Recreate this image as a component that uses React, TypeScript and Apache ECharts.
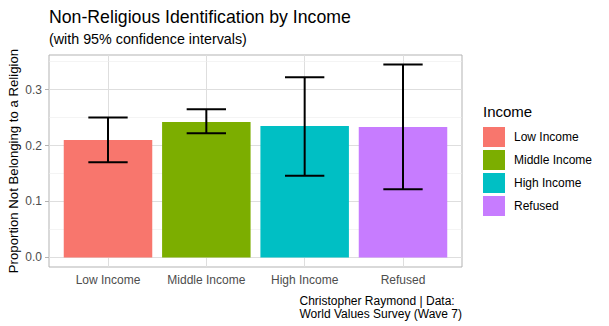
import React, { useEffect, useRef } from "react";
import * as echarts from "echarts";

const categories = ["Low Income", "Middle Income", "High Income", "Refused"];
const proportions = [0.21, 0.242, 0.235, 0.233];
const lowerCI = [0.17, 0.222, 0.146, 0.122];
const upperCI = [0.25, 0.265, 0.322, 0.345];
const colors = ["#F8766D", "#7CAE00", "#00BFC4", "#C77CFF"];
const yTicks = [0, 0.1, 0.2, 0.3];
const yMinor = [0.05, 0.15, 0.25, 0.35];
const xPositions = [1, 2, 3, 4];

const FONT = "Liberation Sans, Arial, sans-serif";

export default function App() {
  const ref = useRef<HTMLDivElement>(null);
  useEffect(() => {
    document.body.style.margin = "0";
    if (!ref.current) return;
    const chart = echarts.init(ref.current, null, { renderer: "svg" });

    const renderItem = (params: any, api: any) => {
      const x = api.value(0);
      const v = api.value(1);
      const lo = api.value(2);
      const hi = api.value(3);
      const tl = api.coord([x - 0.45, v]);
      const br = api.coord([x + 0.45, 0]);
      const pHi = api.coord([x, hi]);
      const pLo = api.coord([x, lo]);
      const cl = api.coord([x - 0.2, hi]);
      const cr = api.coord([x + 0.2, hi]);
      const lineStyle = { stroke: "#000", lineWidth: 2 };
      return {
        type: "group",
        children: [
          {
            type: "rect",
            shape: { x: tl[0], y: tl[1], width: br[0] - tl[0], height: br[1] - tl[1] },
            style: { fill: api.visual("color") },
          },
          { type: "line", shape: { x1: pHi[0], y1: pHi[1], x2: pLo[0], y2: pLo[1] }, style: lineStyle },
          { type: "line", shape: { x1: cl[0], y1: pHi[1], x2: cr[0], y2: pHi[1] }, style: lineStyle },
          { type: "line", shape: { x1: cl[0], y1: pLo[1], x2: cr[0], y2: pLo[1] }, style: lineStyle },
        ],
      };
    };

    const barSeries = categories.map((c, i) => ({
      type: "custom",
      name: c,
      renderItem,
      z: 3,
      itemStyle: { color: colors[i] },
      encode: { x: 0, y: 1 },
      data: [[xPositions[i], proportions[i], lowerCI[i], upperCI[i]]],
    }));

    const gridSeries = {
      type: "line",
      name: "__grid",
      data: [],
      z: 1,
      silent: true,
      markLine: {
        silent: true,
        symbol: "none",
        z: 1,
        label: { show: false },
        animation: false,
        data: [
          ...xPositions.map((x) => ({ xAxis: x, lineStyle: { color: "#dedede", width: 1, type: "solid" } })),
          ...yTicks.map((y) => ({ yAxis: y, lineStyle: { color: "#dedede", width: 1, type: "solid" } })),
          ...yMinor.map((y) => ({ yAxis: y, lineStyle: { color: "#ededed", width: 0.6, type: "solid" } })),
        ],
      },
    };

    chart.setOption({
      animation: false,
      textStyle: { fontFamily: FONT },
      title: {
        text: "Non-Religious Identification by Income",
        subtext: "(with 95% confidence intervals)",
        left: 44,
        top: 3,
        itemGap: 6,
        textStyle: { fontFamily: FONT, fontSize: 17.7, fontWeight: "normal", color: "#000" },
        subtextStyle: { fontFamily: FONT, fontSize: 14.3, color: "#000" },
      },
      legend: {
        data: categories,
        orient: "vertical",
        left: 478,
        top: 122,
        icon: "rect",
        itemWidth: 22,
        itemHeight: 20,
        itemGap: 3,
        textStyle: { fontFamily: FONT, fontSize: 12, color: "#000", padding: [0, 0, 0, 4] },
        selectedMode: false,
      },
      grid: {
        left: 49,
        right: 147,
        top: 55,
        bottom: 59,
        containLabel: false,
        outerBoundsMode: "none",
        show: true,
        borderColor: "#b3b3b3",
        borderWidth: 1,
        backgroundColor: "transparent",
      },
      xAxis: {
        type: "value",
        min: 0.4,
        max: 4.6,
        axisLine: { show: false },
        splitLine: { show: false },
        axisTick: { show: true, length: 4, lineStyle: { color: "#b3b3b3" }, customValues: xPositions },
        axisLabel: {
          customValues: xPositions,
          formatter: (v: number) => categories[Math.round(v) - 1] ?? "",
          color: "#4d4d4d",
          fontSize: 12,
          margin: 7,
          fontFamily: FONT,
        },
      },
      yAxis: {
        type: "value",
        min: -0.0172,
        max: 0.362,
        name: "Proportion Not Belonging to a Religion",
        nameLocation: "middle",
        nameGap: 29,
        nameMoveOverlap: false,
        nameRotate: 90,
        nameTextStyle: { fontFamily: FONT, fontSize: 13.2, color: "#000" },
        axisLine: { show: false },
        splitLine: { show: false },
        axisTick: { show: true, length: 4, lineStyle: { color: "#b3b3b3" }, customValues: yTicks },
        axisLabel: {
          customValues: yTicks,
          formatter: (v: number) => v.toFixed(1),
          color: "#4d4d4d",
          fontSize: 12,
          margin: 7,
          fontFamily: FONT,
        },
      },
      graphic: [
        {
          type: "text",
          left: 483,
          top: 104,
          style: { text: "Income", fontFamily: FONT, fontSize: 15, fill: "#000" },
        },
        {
          type: "text",
          right: 609 - 462,
          top: 294,
          style: {
            text: "Christopher Raymond | Data:\nWorld Values Survey (Wave 7)",
            fontFamily: FONT,
            fontSize: 12,
            lineHeight: 13,
            align: "right",
            fill: "#000",
          },
        },
      ],
      series: [gridSeries, ...barSeries],
    });
    return () => chart.dispose();
  }, []);
  return <div ref={ref} style={{ width: 609, height: 326 }} />;
}
